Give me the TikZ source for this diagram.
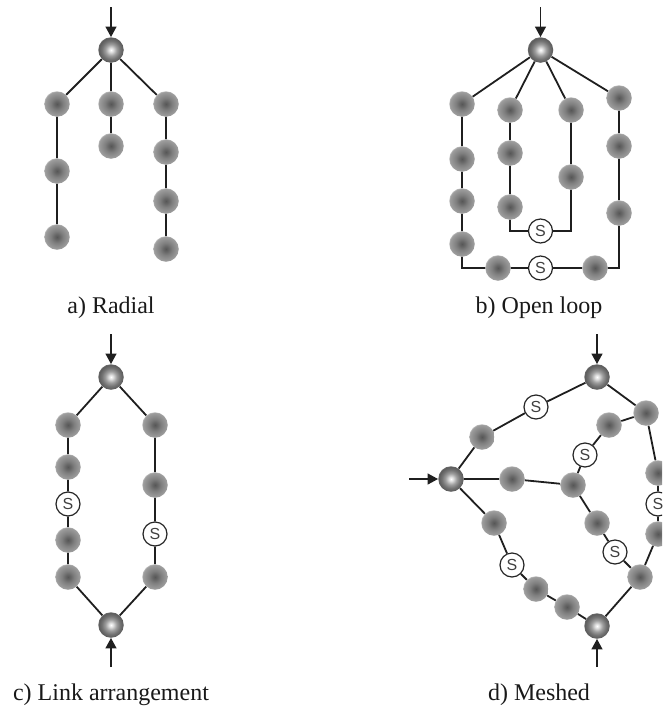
\documentclass[tikz,border=0pt]{standalone}
\usepackage{fontspec}
\setmainfont{Liberation Serif}
\newfontfamily\swfont{Liberation Sans}
\usetikzlibrary{arrows.meta}
\pgfdeclareradialshading{greyball}{\pgfpoint{0bp}{0bp}}{color(0bp)=(black!66); color(5bp)=(black!60); color(12bp)=(black!50); color(19bp)=(black!43); color(24bp)=(black!38); color(25bp)=(black!28); color(50bp)=(black!28)}
\pgfdeclareradialshading{srcball}{\pgfpoint{0bp}{0bp}}{color(0bp)=(white); color(4bp)=(black!12); color(11bp)=(black!38); color(18bp)=(black!55); color(24bp)=(black!64); color(25bp)=(black!58); color(50bp)=(black!58)}
\tikzset{
  gn/.style={circle,inner sep=0pt,minimum size=25.5pt,shading=greyball},
  src/.style={circle,inner sep=0pt,minimum size=25.5pt,shading=srcball},
  sw/.style={circle,draw=black!85,line width=1.2pt,fill=white,inner sep=0pt,minimum size=24pt,font=\swfont\fontsize{16}{16}\selectfont,text=black!75},
  ln/.style={draw=black!88,line width=1.8pt},
  feed/.style={draw=black!88,line width=1.4pt,-{Triangle[length=10.5pt,width=11pt]}},
  captext/.style={font=\fontsize{24}{28}\selectfont,text=black!90}
}
\begin{document}
\begin{tikzpicture}[x=1pt,y=-1pt]
\useasboundingbox (0,0) rectangle (662,710);
\clip (0,0) rectangle (662,710);
% a) Radial
\node[src] (a0) at (111,50) {};
\node[gn] (a1) at (57,104) {};
\node[gn] (a2) at (57,171) {};
\node[gn] (a3) at (57,237) {};
\node[gn] (a4) at (111,104) {};
\node[gn] (a5) at (111,146) {};
\node[gn] (a6) at (166,104) {};
\node[gn] (a7) at (166,152) {};
\node[gn] (a8) at (166,201) {};
\node[gn] (a9) at (166,249) {};
\coordinate (ain) at (111,7);
\draw[feed] (ain) -- (a0);
\path[ln] (a0)--(a1) (a1)--(a2) (a2)--(a3) (a0)--(a4) (a4)--(a5) (a0)--(a6) (a6)--(a7) (a7)--(a8) (a8)--(a9);
\node[captext] (acap) at (111,308) {a) Radial};
% b) Open loop
\node[src] (b0) at (540.5,50) {};
\node[gn] (b1) at (462,104) {};
\node[gn] (b2) at (462,159) {};
\node[gn] (b3) at (462,201) {};
\node[gn] (b4) at (462,244) {};
\node[gn] (b5) at (510,110) {};
\node[gn] (b6) at (510,153) {};
\node[gn] (b7) at (510,207) {};
\node[sw] (bs1) at (540.5,231) {S};
\node[gn] (b8) at (571,110) {};
\node[gn] (b9) at (571,177) {};
\node[gn] (b10) at (619,98) {};
\node[gn] (b11) at (619,146) {};
\node[gn] (b12) at (619,213) {};
\node[gn] (b13) at (498,268) {};
\node[sw] (bs2) at (540.5,268) {S};
\node[gn] (b14) at (595,268) {};
\coordinate (bc1) at (462,268);
\coordinate (bc2) at (619,268);
\coordinate (bc3) at (510,231);
\coordinate (bc4) at (571,231);
\coordinate (bin) at (540.5,7);
\draw[feed] (bin) -- (b0);
\path[ln] (b0)--(b1) (b1)--(b2) (b2)--(b3) (b3)--(b4) (b4)--(bc1)--(b13) (b13)--(bs2) (bs2)--(b14) (b14)--(bc2)--(b12) (b12)--(b11) (b11)--(b10) (b10)--(b0);
\path[ln] (b0)--(b5) (b5)--(b6) (b6)--(b7) (b7)--(bc3)--(bs1) (bs1)--(bc4)--(b9) (b9)--(b8) (b8)--(b0);
\node[captext] (bcap) at (539,308) {b) Open loop};
% c) Link arrangement
\node[src] (c0) at (111,377) {};
\node[gn] (c1) at (68,425) {};
\node[gn] (c2) at (68,467) {};
\node[sw] (cs1) at (68,504) {S};
\node[gn] (c3) at (68,540) {};
\node[gn] (c4) at (68,577) {};
\node[gn] (c5) at (155,425) {};
\node[gn] (c6) at (155,485) {};
\node[sw] (cs2) at (155,534) {S};
\node[gn] (c7) at (155,577) {};
\node[src] (c8) at (111,625) {};
\coordinate (cin1) at (111,334);
\coordinate (cin2) at (111,667);
\draw[feed] (cin1) -- (c0);
\draw[feed] (cin2) -- (c8);
\path[ln] (c0)--(c1) (c1)--(c2) (c2)--(cs1) (cs1)--(c3) (c3)--(c4) (c4)--(c8) (c0)--(c5) (c5)--(c6) (c6)--(cs2) (cs2)--(c7) (c7)--(c8);
\node[captext] (ccap) at (111,695) {c) Link arrangement};
% d) Meshed
\node[src] (d0) at (597,377) {};
\node[src] (d1) at (451,479) {};
\node[src] (d2) at (597,626) {};
\node[sw] (ds1) at (536,407) {S};
\node[gn] (d3) at (482,437) {};
\node[gn] (d4) at (512,479) {};
\node[gn] (d5) at (573,485) {};
\node[sw] (ds2) at (585,455) {S};
\node[gn] (d6) at (609,425) {};
\node[gn] (d7) at (646,413) {};
\node[gn] (d8) at (658,473) {};
\node[sw] (ds3) at (658,504) {S};
\node[gn] (d9) at (658,534) {};
\node[gn] (d10) at (640,577) {};
\node[gn] (d11) at (597,523) {};
\node[sw] (ds4) at (615,552) {S};
\node[gn] (d12) at (494,523) {};
\node[sw] (ds5) at (512,565) {S};
\node[gn] (d13) at (536,589) {};
\node[gn] (d14) at (567,607) {};
\coordinate (din1) at (597,334);
\coordinate (din2) at (409,479);
\coordinate (din3) at (597,667);
\draw[feed] (din1) -- (d0);
\draw[feed] (din2) -- (d1);
\draw[feed] (din3) -- (d2);
\path[ln] (d0)--(ds1) (ds1)--(d3) (d3)--(d1) (d1)--(d4) (d4)--(d5) (d5)--(ds2) (ds2)--(d6) (d6)--(d7) (d0)--(d7) (d7)--(d8) (d8)--(ds3) (ds3)--(d9) (d9)--(d10) (d10)--(d2);
\path[ln] (d5)--(d11) (d11)--(ds4) (ds4)--(d10) (d1)--(d12) (d12)--(ds5) (ds5)--(d13) (d13)--(d14) (d14)--(d2);
\node[captext] (dcap) at (539,695) {d) Meshed};
\end{tikzpicture}
\end{document}
